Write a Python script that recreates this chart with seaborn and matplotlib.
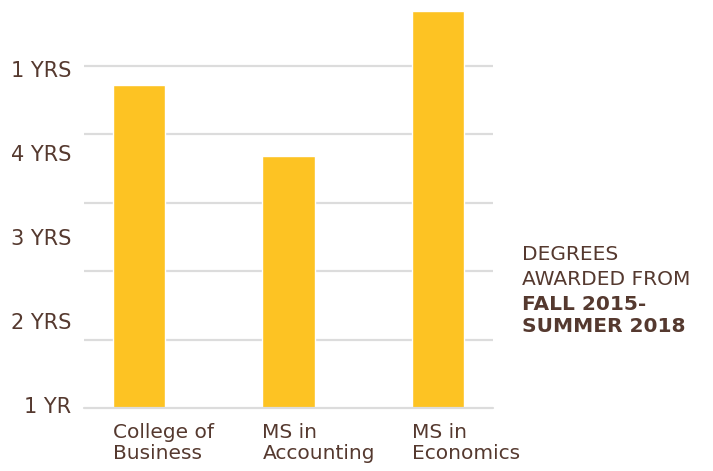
import matplotlib
matplotlib.use("Agg")
import matplotlib.pyplot as plt
import matplotlib.transforms as mtransforms
import numpy as np
import seaborn as sb
import pandas as pd

programs = ["College of\nBusiness", "MS in\nAccounting", "MS in\nEconomics"]
years = [4.81, 3.96, 5.69]
tick_vals = [1, 2, 3, 4, 5]
tick_text = ["1 YR", "2 YRS", "3 YRS", "4 YRS", "1 YRS"]
note_lines = ["DEGREES", "AWARDED FROM", "FALL 2015-", "SUMMER 2018"]
note_bold = [False, False, True, True]

bar_col = "#FDC323"
txt_col = "#55392F"
grid_col = "#DCDCDC"

sb.set_style("white")
plt.rcParams["font.family"] = ["DejaVu Sans"]

fig = plt.figure(figsize=(7.13, 4.71), dpi=100)
ax = fig.add_axes([84 / 713, (471 - 408) / 471, 409 / 713, 408 / 471])

df = pd.DataFrame({"program": programs, "years": years})
sb.barplot(data=df, x="program", y="years", color=bar_col, saturation=1,
           width=0.35, ax=ax, zorder=2)

y0 = 0.964
ax.set_ylim(y0, 1 + 405 / 84)
ax.set_xlim(-0.368, 2.368)

# light horizontal rules, spaced on their own
for g in np.linspace(y0, 5.036, 6)[1:]:
    ax.axhline(g, color=grid_col, lw=1.6, zorder=1)
ax.axhline(y0, color=grid_col, lw=1.6, zorder=3, clip_on=False)

ax.set_yticks(tick_vals)
ax.set_yticklabels(tick_text)
ax.tick_params(axis="y", length=0, pad=9, labelsize=15, labelcolor=txt_col)
ax.tick_params(axis="x", length=0, pad=11, labelsize=14.5, labelcolor=txt_col)

shift = mtransforms.ScaledTranslation(-26 / 100, 0, fig.dpi_scale_trans)
for lab in ax.get_xticklabels():
    lab.set_ha("left")
    lab.set_linespacing(1.1)
    lab.set_transform(lab.get_transform() + shift)

ax.set_xlabel("")
ax.set_ylabel("")
sb.despine(ax=ax, left=True, bottom=True)

baselines = [260, 285, 310, 332]
for line, bold, b in zip(note_lines, note_bold, baselines):
    fig.text(522 / 713, 1 - b / 471, line, color=txt_col, fontsize=14.5,
             fontweight="bold" if bold else "normal", va="baseline", ha="left")

plt.savefig("out.png", dpi=100)
